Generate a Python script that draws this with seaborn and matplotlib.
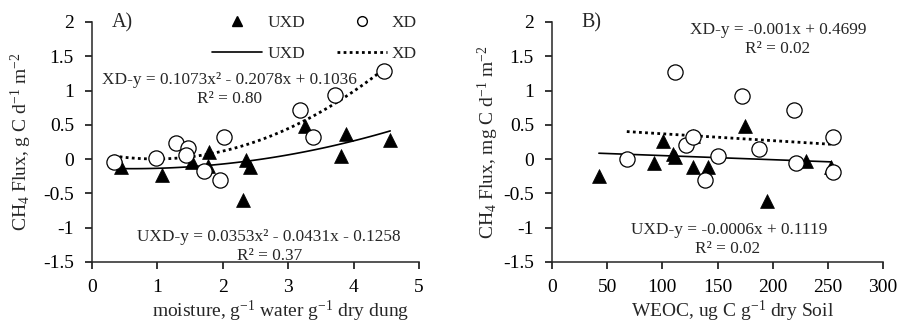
import numpy as np
import matplotlib
matplotlib.use("Agg")
import matplotlib.pyplot as plt
import seaborn as sns
from matplotlib.lines import Line2D

# ---------------- data ----------------
# Panel A: moisture vs CH4 flux
a_uxd_x = [0.44, 1.07, 1.53, 1.79, 1.78, 2.36, 2.42, 2.31, 3.26, 3.88, 3.80, 4.56]
a_uxd_y = [-0.12, -0.23, -0.04, 0.10, -0.10, -0.01, -0.11, -0.60, 0.49, 0.36, 0.05, 0.28]
a_xd_x = [0.33, 0.98, 1.29, 1.47, 1.43, 1.71, 1.96, 2.02, 3.18, 3.38, 3.71, 4.47]
a_xd_y = [-0.04, 0.01, 0.23, 0.16, 0.06, -0.18, -0.30, 0.33, 0.72, 0.33, 0.93, 1.28]
# Panel B: WEOC vs CH4 flux
b_uxd_x = [42.5, 101, 92, 109.4, 111.5, 128, 141.7, 127.5, 174.9, 195, 230, 253]
b_uxd_y = [-0.24, 0.26, -0.06, 0.08, 0.03, -0.11, -0.11, 0.34, 0.49, -0.61, -0.02, -0.12]
b_xd_x = [67.8, 111.5, 121, 127.5, 138.7, 150, 171.8, 187.5, 219.5, 221.6, 254.7, 254.7]
b_xd_y = [0.00, 1.27, 0.21, 0.32, -0.30, 0.05, 0.92, 0.15, 0.71, -0.06, 0.33, -0.19]

# trendline coefficients (highest power first), as printed on the chart
a_uxd_coef = [0.0353, -0.0431, -0.1258]
a_xd_coef = [0.1073, -0.2078, 0.1036]
b_uxd_coef = [-0.0006, 0.1119]
b_xd_coef = [-0.001, 0.4699]

a_xd_eq = ["XD-y = 0.1073x\u00b2 - 0.2078x + 0.1036", "R\u00b2 = 0.80"]
a_uxd_eq = ["UXD-y = 0.0353x\u00b2 - 0.0431x - 0.1258", "R\u00b2 = 0.37"]
b_xd_eq = ["XD-y = -0.001x + 0.4699", "R\u00b2 = 0.02"]
b_uxd_eq = ["UXD-y = -0.0006x + 0.1119", "R\u00b2 = 0.02"]

y_ticks = [-1.5, -1, -0.5, 0, 0.5, 1, 1.5, 2]
a_xticks = [0, 1, 2, 3, 4, 5]
b_xticks = [0, 50, 100, 150, 200, 250, 300]

# ---------------- style ----------------
sns.set_style("ticks")
plt.rcParams["font.family"] = ["Liberation Serif", "DejaVu Serif"]
plt.rcParams["mathtext.fontset"] = "custom"
plt.rcParams["mathtext.rm"] = "Liberation Serif"
plt.rcParams["mathtext.it"] = "Liberation Serif:italic"
plt.rcParams["axes.linewidth"] = 1.1

W, H = 900, 324
fig = plt.figure(figsize=(9, 3.24), dpi=100)
axA = fig.add_axes([92 / W, 62 / H, 327 / W, 240 / H])
axB = fig.add_axes([552 / W, 62 / H, 331 / W, 240 / H])

tick_fs = 14
ann_fs = 12.4


def fmt(v):
    return ("%g" % v)


def draw(ax, ux, uy, xx, xy, ucoef, xcoef):
    sns.scatterplot(x=ux, y=uy, ax=ax, marker="^", s=100, color="black",
                    edgecolor="black", linewidth=0.5, zorder=3)
    sns.scatterplot(x=xx, y=xy, ax=ax, marker="o", s=120, facecolor="white",
                    edgecolor="black", linewidth=0.9, zorder=4)
    xs_u = np.linspace(min(ux), max(ux), 100)
    xs_x = np.linspace(min(xx), max(xx), 100)
    sns.lineplot(x=xs_u, y=np.polyval(ucoef, xs_u), ax=ax, color="black",
                 linewidth=1.2, zorder=2)
    sns.lineplot(x=xs_x, y=np.polyval(xcoef, xs_x), ax=ax, color="black",
                 linewidth=2.0, linestyle=(0, (1, 1.2)), zorder=2)
    ax.set_yticks(y_ticks)
    ax.set_yticklabels([fmt(v) for v in y_ticks], fontsize=tick_fs)
    ax.set_ylim(-1.5, 2)
    ax.tick_params(axis="both", direction="out", length=5, width=1.1,
                   colors="black")
    ax.tick_params(axis="x", pad=7)
    ax.tick_params(axis="y", pad=8)
    sns.despine(ax=ax)


draw(axA, a_uxd_x, a_uxd_y, a_xd_x, a_xd_y, a_uxd_coef, a_xd_coef)
axA.set_xlim(0, 5)
axA.set_xticks(a_xticks)
axA.set_xticklabels([fmt(v) for v in a_xticks], fontsize=tick_fs)

draw(axB, b_uxd_x, b_uxd_y, b_xd_x, b_xd_y, b_uxd_coef, b_xd_coef)
axB.set_xlim(0, 300)
axB.set_xticks(b_xticks)
axB.set_xticklabels([fmt(v) for v in b_xticks], fontsize=tick_fs)

axA.set_ylabel(r"CH$_4$ Flux, g C d$^{-1}$ m$^{-2}$", fontsize=tick_fs)
axB.set_ylabel(r"CH$_4$ Flux, mg C d$^{-1}$ m$^{-2}$", fontsize=tick_fs)
axA.yaxis.set_label_coords(-0.178, 0.5)
axB.yaxis.set_label_coords(-0.155, 0.5)
axA.set_xlabel(r"moisture, g$^{-1}$ water g$^{-1}$ dry dung", fontsize=tick_fs)
axB.set_xlabel(r"WEOC, ug C g$^{-1}$ dry Soil", fontsize=tick_fs)
axA.xaxis.set_label_coords(0.578, -0.155)
axB.xaxis.set_label_coords(0.544, -0.155)


def ftext(px, py, s, fs=ann_fs, ha="center"):
    fig.text(px / W, 1 - py / H, s, fontsize=fs, ha=ha, va="center")


ftext(112, 23, "A)", fs=14.5, ha="left")
ftext(581, 23, "B)", fs=14.5, ha="left")
ftext(229, 80, a_xd_eq[0])
ftext(230, 99, a_xd_eq[1])
ftext(269, 237, a_uxd_eq[0])
ftext(270, 256, a_uxd_eq[1])
ftext(778, 30, b_xd_eq[0])
ftext(778, 49, b_xd_eq[1])
ftext(729, 230, b_uxd_eq[0])
ftext(728, 249, b_uxd_eq[1])

# legend in panel A
handles = [
    Line2D([], [], marker="^", color="black", linestyle="none", markersize=7),
    Line2D([], [], color="black", linewidth=1.2),
    Line2D([], [], marker="o", markerfacecolor="white", markeredgecolor="black",
           linestyle="none", markersize=7),
    Line2D([], [], color="black", linewidth=2.0, linestyle=(0, (1, 1.2))),
]
labels = ["UXD", "UXD", "XD", "XD"]
axA.legend(handles, labels, ncol=2, frameon=False, fontsize=12.5,
           loc="upper left", bbox_to_anchor=(212 / W, 1 - 15 / H),
           bbox_transform=fig.transFigure, borderpad=0, borderaxespad=0,
           handlelength=2.9, handletextpad=0.3, columnspacing=1.8,
           labelspacing=0.85, numpoints=1)

fig.savefig("out.png", dpi=100)
